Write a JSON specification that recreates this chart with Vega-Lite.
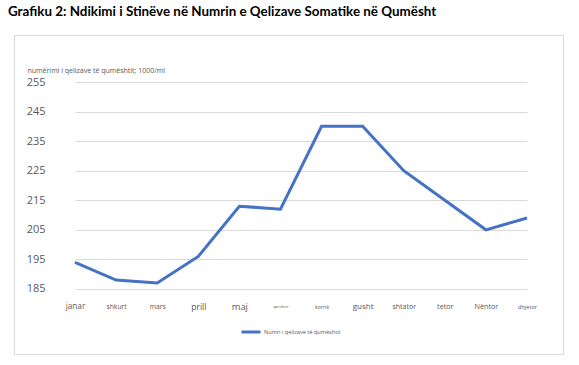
{
  "$schema": "https://vega.github.io/schema/vega-lite/v6.json",
  "autosize": {"type": "none"},
  "padding": {"left": 14, "top": 35, "right": 16, "bottom": 11},
  "width": 549,
  "height": 319,
  "background": "white",
  "config": {
    "view": {"stroke": "#d9d9d9", "strokeWidth": 1},
    "font": "Open Sans"
  },
  "title": {
    "text": "Grafiku 2: Ndikimi i Stinëve në Numrin e Qelizave Somatike në Qumësht",
    "anchor": "start",
    "frame": "group",
    "font": "Lato",
    "fontSize": 13.4,
    "fontWeight": "bold",
    "color": "#000000",
    "offset": 17,
    "dx": -6
  },
  "data": {
    "values": [
      {"muaji": "janar", "vlera": 194, "seria": "Numri i qelizave të qumështit"},
      {"muaji": "shkurt", "vlera": 188, "seria": "Numri i qelizave të qumështit"},
      {"muaji": "mars", "vlera": 187, "seria": "Numri i qelizave të qumështit"},
      {"muaji": "prill", "vlera": 196, "seria": "Numri i qelizave të qumështit"},
      {"muaji": "maj", "vlera": 213, "seria": "Numri i qelizave të qumështit"},
      {"muaji": "qershor", "vlera": 212, "seria": "Numri i qelizave të qumështit"},
      {"muaji": "korrik", "vlera": 240, "seria": "Numri i qelizave të qumështit"},
      {"muaji": "gusht", "vlera": 240, "seria": "Numri i qelizave të qumështit"},
      {"muaji": "shtator", "vlera": 225, "seria": "Numri i qelizave të qumështit"},
      {"muaji": "tetor", "vlera": 215, "seria": "Numri i qelizave të qumështit"},
      {"muaji": "Nëntor", "vlera": 205, "seria": "Numri i qelizave të qumështit"},
      {"muaji": "dhjetor", "vlera": 209, "seria": "Numri i qelizave të qumështit"}
    ]
  },
  "mark": {"type": "line", "strokeWidth": 3, "strokeJoin": "miter"},
  "encoding": {
    "x": {
      "field": "muaji",
      "type": "ordinal",
      "sort": null,
      "scale": {"type": "point", "range": [61, 513], "padding": 0},
      "axis": {
        "title": null,
        "labelAngle": 0,
        "domain": false,
        "ticks": false,
        "tickSize": 0,
        "grid": false,
        "labelPadding": -48,
        "labelBaseline": "middle",
        "labelColor": "#595959",
        "labelFontSize": {"expr": "datum.value === 'janar' ? 8.2 : datum.value === 'prill' ? 8.6 : datum.value === 'maj' ? 9.3 : datum.value === 'gusht' ? 8 : datum.value === 'qershor' ? 4.2 : datum.value === 'korrik' ? 5.2 : datum.value === 'dhjetor' ? 5.7 : (datum.value === 'shkurt' || datum.value === 'mars') ? 6.8 : datum.value === 'shtator' ? 7 : 7.2"}
      }
    },
    "y": {
      "field": "vlera",
      "type": "quantitative",
      "scale": {"domain": [163.0, 270.9], "nice": false, "zero": false},
      "axis": {
        "title": "numërimi i qelizave të qumështit; 1000/ml",
        "titleAngle": 0,
        "titleAlign": "left",
        "titleBaseline": "middle",
        "titleX": 13,
        "titleY": 35,
        "titleFontSize": 7,
        "titleFontWeight": "normal",
        "titleColor": "#595959",
        "values": [185, 195, 205, 215, 225, 235, 245, 255],
        "domain": false,
        "ticks": false,
        "tickSize": 0,
        "labelPadding": -31,
        "labelAlign": "right",
        "labelFontSize": 11,
        "labelColor": "#595959",
        "grid": true,
        "gridColor": "#d9d9d9",
        "gridWidth": 1,
        "encoding": {
          "grid": {"update": {"x": {"value": 40}, "x2": {"value": 534}}}
        }
      }
    },
    "color": {
      "field": "seria",
      "type": "nominal",
      "scale": {"range": ["#4472C4"]},
      "legend": {
        "title": null,
        "orient": "none",
        "legendX": 226,
        "legendY": 286,
        "symbolType": "stroke",
        "symbolStrokeWidth": 3,
        "symbolSize": 361,
        "labelFontSize": 5.6,
        "labelColor": "#595959",
        "labelOffset": 2
      }
    }
  }
}
